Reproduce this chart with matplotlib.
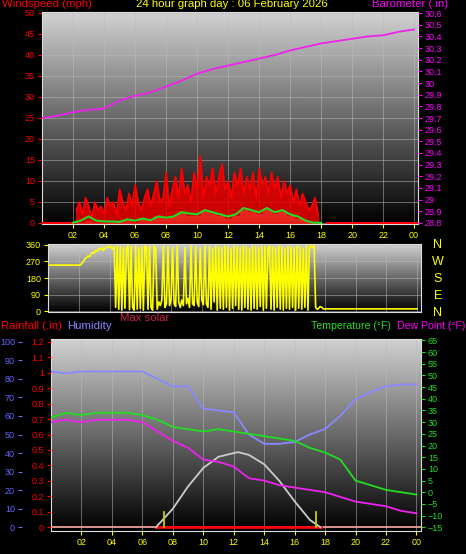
import matplotlib.pyplot as plt
import numpy as np

W, H = 466, 554
plt.rcParams["font.family"] = ["Liberation Sans", "DejaVu Sans"]

# ---- data ----
hours = np.arange(0, 25)
baro = [29.70, 29.72, 29.75, 29.77, 29.78, 29.85, 29.89, 29.92, 29.97, 30.02, 30.08, 30.12,
        30.15, 30.18, 30.21, 30.24, 30.28, 30.31, 30.34, 30.36, 30.38, 30.40, 30.41, 30.44, 30.46]

gust = [3, 5, 2, 6, 4, 1, 5, 3, 4, 2, 6, 4, 5, 2, 8, 5, 3, 7, 4, 9, 5, 3, 6, 8, 4, 7, 10, 5,
        6, 12, 4, 8, 11, 6, 13, 7, 9, 5, 12, 8, 16, 6, 11, 9, 13, 7, 11, 14, 8, 10, 6, 12, 9,
        13, 7, 11, 8, 12, 6, 13, 9, 11, 7, 12, 8, 11, 6, 10, 7, 9, 5, 8, 4, 7, 5, 3, 4, 6, 2]
gust_t = 2.2 + 0.2 * np.arange(len(gust))
avg_t = np.arange(2.0, 18.05, 0.5)
avg = [0, 0.5, 1.5, 0.5, 0.3, 0.3, 0.2, 0.8, 0.5, 1, 0.6, 1.5, 1.2, 1.5, 2.5, 2.2, 2, 3,
       2.5, 2, 1.5, 2, 3.5, 3, 2.5, 3.5, 2.5, 3, 2, 1.5, 0.5, 0, 0]
speed = [0, 0, 0.5, 0, 0, 0, 0, 0.5, 0, 0.8, 0.5, 1.5, 1, 1.5, 2.5, 1.5, 1.5, 2.5,
         2, 1.5, 1, 1.5, 3, 2.5, 2, 3, 2, 2.5, 1.5, 1, 0.3, 0, 0]

# wind direction, 0.1 h steps
dir_head = [250] * 22 + [260, 270, 285, 290, 300, 295, 310, 320, 315, 330, 325, 340, 335, 345,
                         330, 340, 350, 345, 355, 345, 340, 350]
dir_swing = [20, 355, 10, 350, 5, 345, 15, 340, 358, 8, 350, 20, 5, 355, 10, 345, 15, 350, 5,
             355, 345, 10, 350, 20, 5, 355, 340, 10, 50, 30, 60, 355, 20, 40, 350, 30, 60, 345,
             40, 25, 355, 50, 20, 60, 30, 345, 40, 70, 20, 355, 40, 30, 350, 50, 25, 345, 60,
             35, 355, 40, 20, 350, 10, 340, 50, 355, 5, 350, 15, 345, 10, 355, 20, 350, 5, 340,
             15, 355, 30, 350, 10, 345, 5, 355, 20, 350, 10, 340, 5, 355, 15, 350, 10, 345, 25,
             355, 5, 350, 15, 340, 355, 10, 350, 5, 345, 20, 355, 10, 350, 5, 340, 15, 355, 10,
             350, 20, 345, 5, 355, 15, 350, 10, 340, 20, 355, 5, 350, 355, 345, 355]
dir_tail = [20, 10, 15, 25, 20] + [12] * 62
wdir = dir_head + dir_swing + dir_tail
dir_t = 0.1 * np.arange(len(wdir))

humid = [84, 83, 84, 84, 84, 84, 84, 80, 76, 76, 64, 63, 62, 50, 45, 45, 46, 50, 53, 60,
         69, 73, 76, 77, 77]
temp = [32, 34, 33, 34, 34, 34, 33, 31, 28, 27, 26, 27, 26, 25, 24, 23, 22, 19, 17, 14,
        5, 3, 1, 0, -1]
dew = [30, 31, 30, 31, 31, 31, 30, 26, 22, 19, 14, 13, 11, 6, 5, 3, 2, 1, 0, -2, -4, -5,
       -6, -8, -9]
solar_t = [6.9, 7, 8, 9, 10, 11, 12, 12.3, 13, 14, 15, 16, 17, 17.7]
solar = [0, 1, 10, 22, 32, 38, 40, 40.5, 39, 34, 25, 14, 4, 0]
sun_marks = [7.4, 17.4]

xticks = list(range(2, 25, 2))
xlabels = ["%02d" % (h % 24) for h in xticks]

fig = plt.figure(figsize=(W / 100, H / 100), dpi=100, facecolor="black")
tfs = 6.5


def panel(x0, y0, x1, y1):
    ax = fig.add_axes([x0 / W, 1 - y1 / H, (x1 - x0) / W, (y1 - y0) / H])
    grad = np.linspace(0.82, 0.0, 256).reshape(-1, 1)
    ax.imshow(grad, cmap="gray", vmin=0, vmax=1, aspect="auto",
              extent=[0, 1, 0, 1], transform=ax.transAxes, zorder=0)
    for s in ax.spines.values():
        s.set_color("#dddddd")
    ax.grid(True, color="#bbbbbb", lw=0.6, alpha=0.6)
    ax.tick_params(labelsize=tfs, length=3, pad=2)
    return ax


fs = 8.2
# ---- top panel ----
ax = panel(42, 12, 418, 224)
ax.set_xlim(0, 24.25)
ax.set_ylim(-0.3, 50.2)
ax.set_yticks(range(0, 51, 5))
ax.tick_params(axis="y", colors="red")
ax.set_xticks(xticks, xlabels)
ax.tick_params(axis="x", colors="yellow")
ax.fill_between(avg_t, speed, color="#ccf0cc", zorder=2, step="mid")
ax.plot([0, 2.2], [0, 0], color="red", lw=1.5, zorder=3)
ax.plot([18.4, 24.25], [0, 0], color="red", lw=1.5, zorder=3)
ax.fill_between(gust_t, gust, color="#ee0000", alpha=0.85, zorder=3)
ax.plot(gust_t, gust, color="red", lw=1, zorder=3)
ax.plot(avg_t, avg, color="#22dd22", lw=1.5, zorder=4)
ax2 = ax.twinx()
ax2.set_ylim(28.79, 30.61)
ax2.set_yticks(np.round(np.arange(28.8, 30.61, 0.1), 1),
               ["%g" % v for v in np.round(np.arange(28.8, 30.61, 0.1), 1)])
ax2.tick_params(axis="y", colors="magenta", labelsize=tfs, length=3, pad=2)
ax2.plot(hours, baro, color="#ee22ee", lw=1.3)
for s in ax2.spines.values():
    s.set_visible(False)
fig.text(2 / W, 1 - 4 / H, "Windspeed (mph)", color="red", fontsize=fs, va="center")
fig.text(232 / W, 1 - 4 / H, "24 hour graph day : 06 February 2026", color="yellow",
         fontsize=fs, va="center", ha="center")
fig.text(372 / W, 1 - 4 / H, "Barometer (.in)", color="magenta", fontsize=fs, va="center")

# ---- direction panel ----
ax = panel(48, 244, 421, 312)
ax.set_xlim(0, 24.25)
ax.set_ylim(-5, 365)
ax.set_yticks([0, 90, 180, 270, 360])
ax.tick_params(axis="y", colors="yellow")
ax.set_xticks(xticks, [])
ax.tick_params(axis="x", length=0)
ax.plot(dir_t, wdir, color="yellow", lw=1.2, zorder=3)
for i, c in enumerate("NWSEN"):
    fig.text(438 / W, 1 - (245 + i * 17) / H, c, color="yellow", fontsize=9, ha="center",
             va="center")
fig.text(120 / W, 1 - 318 / H, "Max solar", color="#cc2244", fontsize=fs, va="center")
fig.text(1 / W, 1 - 326 / H, "Rainfall (.in)", color="red", fontsize=fs, va="center")
fig.text(67 / W, 1 - 326 / H, "Humidity", color="#8888ff", fontsize=fs, va="center")
fig.text(391 / W, 1 - 326 / H, "Temperature (°F)", color="#22dd22", fontsize=7.6,
         va="center", ha="right")
fig.text(465 / W, 1 - 326 / H, "Dew Point (°F)", color="magenta", fontsize=7.6, va="center",
         ha="right")

# ---- bottom panel ----
ax = panel(51, 339, 421, 531)
ax.set_xlim(0, 24.3)
ax.set_ylim(-2, 101.5)
ax.set_yticks([])
ax.set_xticks(xticks, xlabels)
ax.tick_params(axis="x", colors="yellow")
ax.plot([0, 24.3], [0, 0], color="#ffaaaa", lw=1.2, zorder=3)
ax.plot([6.9, 17.7], [0, 0], color="red", lw=2, zorder=3)
ax.plot(solar_t, solar, color="#cccccc", lw=1.3, zorder=3)
for t in sun_marks:
    ax.plot([t, t], [0, 8], color="#cccc00", lw=1.3, zorder=4)
ax.plot(hours, humid, color="#8888ff", lw=1.3, zorder=4)
axh = fig.add_axes(ax.get_position(), frameon=False)
axh.set_ylim(-2, 101.5)
axh.set_xticks([])
axh.spines["left"].set_position(("outward", 21))
axh.spines["left"].set_visible(True)
axh.spines["left"].set_color("#6666ff")
axh.spines["left"].set_linewidth(2)
axh.set_yticks(range(0, 101, 10))
axh.tick_params(axis="y", colors="#6666ff", labelsize=tfs, length=3, pad=2)
axh.patch.set_visible(False)
axr = fig.add_axes(ax.get_position(), frameon=False)
axr.set_ylim(-0.024, 1.218)
axr.set_xticks([])
axr.spines["left"].set_visible(True)
axr.spines["left"].set_color("red")
axr.spines["left"].set_linestyle((0, (2, 1)))
axr.set_yticks(np.round(np.arange(0, 1.21, 0.1), 1),
               ["%g" % v for v in np.round(np.arange(0, 1.21, 0.1), 1)])
axr.tick_params(axis="y", colors="red", labelsize=tfs, length=3, pad=2)
axr.patch.set_visible(False)
axt = ax.twinx()
axt.set_ylim(-16.6, 65.6)
axt.set_yticks(range(-15, 66, 5))
axt.tick_params(axis="y", colors="#22dd22", labelsize=tfs, length=3, pad=2)
axt.plot(hours, temp, color="#22dd22", lw=1.3)
axt.plot(hours, dew, color="#ee22ee", lw=1.3)
for s in axt.spines.values():
    s.set_visible(False)

fig.savefig("out.png", dpi=100, facecolor="black")
